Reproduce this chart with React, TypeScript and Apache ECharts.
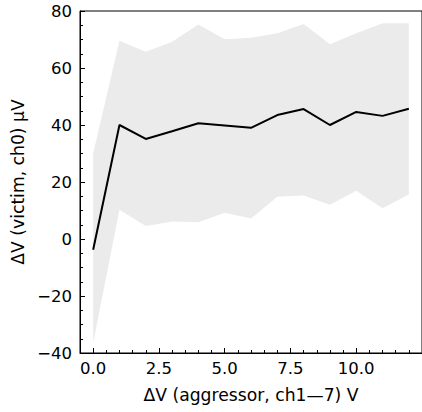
import React, { useEffect, useRef } from "react";
import * as echarts from "echarts";

const xValues = [0, 1, 2, 3, 4, 5, 6, 7, 8, 9, 10, 11, 12];
const meanValues = [-3.8, 40.0, 35.1, 37.8, 40.6, 39.8, 39.0, 43.5, 45.6, 40.0, 44.6, 43.2, 45.7];
const upperValues = [30.0, 69.6, 65.7, 69.2, 75.3, 70.1, 70.6, 72.2, 75.4, 68.3, 72.2, 75.7, 75.7];
const lowerValues = [-36.5, 10.3, 4.6, 6.1, 5.9, 9.2, 7.2, 14.8, 15.3, 12.0, 16.9, 10.8, 15.6];
const xMajorTicks = [0, 2.5, 5, 7.5, 10];
const xMinorTicks = [-0.5, 0.5, 1, 1.5, 2, 3, 3.5, 4, 4.5, 5.5, 6, 6.5, 7, 8, 8.5, 9, 9.5, 10.5, 11, 11.5, 12, 12.5];

const FONT = "DejaVu Sans";
const TICK_FS = 16.5;
const LABEL_FS = 17.2;

const fmtY = (v: number) => (v < 0 ? "\u2212" + String(-v) : String(v));

export default function App() {
  const ref = useRef<HTMLDivElement>(null);
  useEffect(() => {
    if (!ref.current) return;
    const chart = echarts.init(ref.current, null, { renderer: "svg" });
    const axisCommon = {
      type: "value" as const,
      min: -0.5,
      max: 12.5,
      splitLine: { show: false },
    };
    chart.setOption({
      animation: false,
      backgroundColor: "#fff",
      grid: {
        left: 80,
        top: 11,
        bottom: 59,
        right: -3,
        show: true,
        borderColor: "#000",
        borderWidth: 1,
        backgroundColor: "transparent",
      },
      xAxis: [
        {
          ...axisCommon,
          position: "bottom",
          name: "ΔV (aggressor, ch1—7) V",
          nameLocation: "middle",
          nameGap: 33,
          nameTextStyle: { fontFamily: FONT, fontSize: LABEL_FS, color: "#000" },
          axisLine: { show: true, onZero: false, lineStyle: { color: "#000", width: 1 } },
          axisTick: {
            show: true,
            inside: true,
            length: 5,
            customValues: xMajorTicks,
            lineStyle: { color: "#000", width: 1 },
          },
          axisLabel: {
            show: true,
            customValues: xMajorTicks,
            formatter: (v: number) => v.toFixed(1),
            fontFamily: FONT,
            fontSize: TICK_FS,
            color: "#000",
            margin: 7,
          },
        },
        {
          ...axisCommon,
          position: "bottom",
          axisLine: { show: false, onZero: false },
          axisTick: {
            show: true,
            inside: true,
            length: 3,
            customValues: xMinorTicks,
            lineStyle: { color: "#000", width: 1 },
          },
          axisLabel: { show: false },
        },
      ],
      yAxis: {
        type: "value",
        min: -40,
        max: 80,
        interval: 20,
        name: "ΔV (victim, ch0) µV",
        nameLocation: "middle",
        nameGap: 53,
        nameTextStyle: { fontFamily: FONT, fontSize: LABEL_FS, color: "#000" },
        splitLine: { show: false },
        axisLine: { show: true, onZero: false, lineStyle: { color: "#000", width: 1 } },
        axisTick: { show: true, inside: true, length: 5, lineStyle: { color: "#000", width: 1 } },
        minorTick: { show: true, splitNumber: 4, length: 3, lineStyle: { color: "#000", width: 1 } },
        minorSplitLine: { show: false },
        axisLabel: { fontFamily: FONT, fontSize: TICK_FS, color: "#000", margin: 8, formatter: fmtY },
      },
      series: [
        {
          type: "custom",
          xAxisIndex: 0,
          data: [0],
          silent: true,
          renderItem: (_params: any, api: any) => {
            const pts: number[][] = [];
            for (let i = 0; i < xValues.length; i++) pts.push(api.coord([xValues[i], upperValues[i]]));
            for (let i = xValues.length - 1; i >= 0; i--) pts.push(api.coord([xValues[i], lowerValues[i]]));
            return {
              type: "polygon",
              shape: { points: pts },
              style: { fill: "#ebebeb", stroke: "none" },
            };
          },
          z: 1,
        },
        {
          type: "line",
          xAxisIndex: 0,
          data: xValues.map((x, i) => [x, meanValues[i]]),
          showSymbol: false,
          symbol: "none",
          lineStyle: { color: "#000", width: 2 },
          z: 3,
        },
      ],
    });
    return () => chart.dispose();
  }, []);
  return (
    <div
      ref={ref}
      style={{ position: "absolute", left: 0, top: 0, width: 422, height: 412 }}
    />
  );
}
